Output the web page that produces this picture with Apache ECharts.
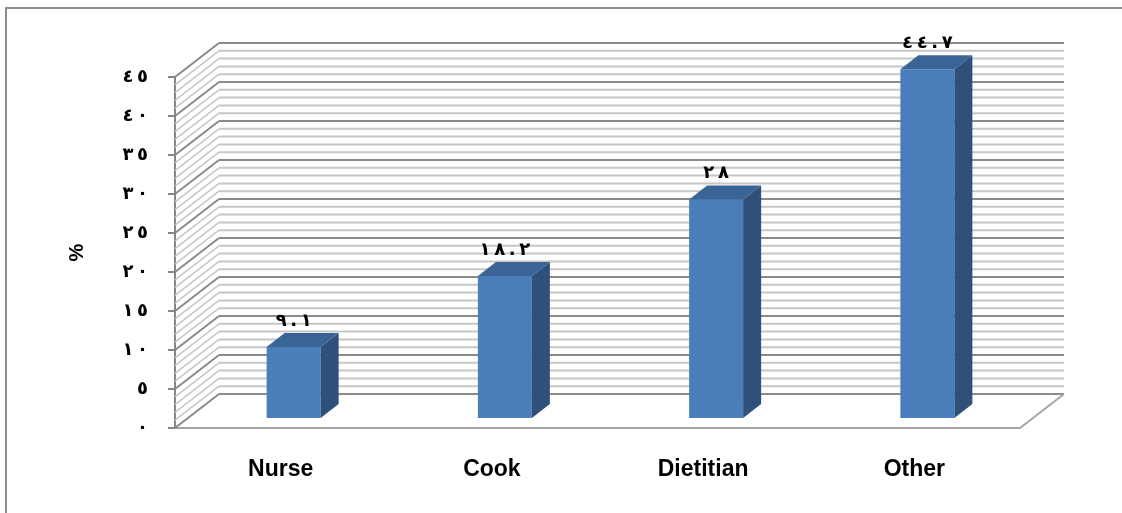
<!DOCTYPE html>
<html>
<head>
<meta charset="utf-8">
<script src="https://cdn.jsdelivr.net/npm/echarts@6/dist/echarts.min.js"></script>
<style>
  html, body { margin: 0; padding: 0; background: #fff; }
  #chart { width: 1122px; height: 513px; }
</style>
</head>
<body>
<div id="chart"></div>
<script>
// data
const categories = ['Nurse', 'Cook', 'Dietitian', 'Other'];
const percents = [9.1, 18.2, 28, 44.7];
const yTicks = [0, 5, 10, 15, 20, 25, 30, 35, 40, 45];

// 3d look: depth of the walls and of the bars (pixels)
const WALL_DX = 44, WALL_DY = -34;
const BAR_DX = 13, BAR_DY = -10;
const BAR_DEPTH_X = 18, BAR_DEPTH_Y = -14;
const BAR_W = 54;

const arabicDigits = '٠١٢٣٤٥٦٧٨٩';
// arabic-indic digits, spaced out; LRM keeps them in left-to-right order
function toArabic(v) {
  return String(v)
    .replace(/[0-9]/g, d => arabicDigits[+d])
    .split('')
    .join('\u200E\u2009\u200E');
}

// one grid line per unit, darker every 5
const gridValues = [];
for (let v = yTicks[0]; v <= yTicks[yTicks.length - 1]; v++) gridValues.push([0, v]);

const chart = echarts.init(document.getElementById('chart'));

const option = {
  backgroundColor: '#fff',
  animation: false,
  graphic: [{
    type: 'rect',
    shape: { x: 6, y: 8, width: 1200, height: 600 },
    style: { fill: 'none', stroke: '#8c8c8c', lineWidth: 2 },
    silent: true
  }],
  grid: { left: 175, right: 102, top: 77, bottom: 85 },
  xAxis: {
    type: 'category',
    data: categories,
    axisLine: { show: true, lineStyle: { color: '#a6a6a6', width: 2 } },
    axisTick: { show: false },
    axisLabel: {
      margin: 30,
      color: '#000',
      fontFamily: '"Liberation Sans Narrow", "Liberation Sans", Arial',
      fontWeight: 'bold',
      fontSize: 23
    },
    splitLine: { show: false }
  },
  yAxis: {
    type: 'value',
    min: 0,
    max: 45,
    interval: 5,
    name: '%',
    nameLocation: 'middle',
    nameRotate: 90,
    nameGap: 88,
    nameTextStyle: { color: '#000', fontWeight: 'bold', fontSize: 20, fontFamily: '"Liberation Sans", Arial' },
    axisLine: { show: true, lineStyle: { color: '#868686', width: 2 } },
    axisTick: { show: true, length: 7, inside: false, lineStyle: { color: '#868686', width: 2 } },
    axisLabel: {
      margin: 27,
      color: '#000',
      fontWeight: 'bold',
      fontSize: 18,
      fontFamily: '"DejaVu Sans", sans-serif',
      formatter: v => toArabic(v)
    },
    splitLine: { show: false }
  },
  series: [
    {
      // back wall lines, left wall hatching and floor edge
      type: 'custom',
      z: 1,
      silent: true,
      data: gridValues,
      renderItem: function (params, api) {
        const cs = params.coordSys;
        const v = api.value(1);
        const y = api.coord([0, v])[1];
        const x0 = cs.x, x1 = cs.x + cs.width;
        const major = v % 5 === 0;
        const stroke = major ? '#8a8a8a' : '#c6c6c6';
        const children = [
          {
            type: 'line',
            shape: { x1: x0 + WALL_DX, y1: y + WALL_DY, x2: x1 + WALL_DX, y2: y + WALL_DY },
            style: { stroke: stroke, lineWidth: 2 }
          },
          {
            type: 'line',
            shape: { x1: x0, y1: y, x2: x0 + WALL_DX, y2: y + WALL_DY },
            style: { stroke: stroke, lineWidth: major ? 2 : 1.5 }
          }
        ];
        if (v === 0) {
          children.push({
            type: 'line',
            shape: { x1: x1, y1: y, x2: x1 + WALL_DX, y2: y + WALL_DY },
            style: { stroke: '#a6a6a6', lineWidth: 2 }
          });
        }
        return { type: 'group', children: children };
      }
    },
    {
      type: 'custom',
      z: 5,
      data: percents.map((v, i) => [i, v]),
      renderItem: function (params, api) {
        const i = api.value(0);
        const v = api.value(1);
        const top = api.coord([i, v]);
        const base = api.coord([i, 0]);
        const xl = top[0] + BAR_DX - BAR_W / 2;
        const xr = xl + BAR_W;
        const yt = top[1] + BAR_DY;
        const yb = base[1] + BAR_DY;
        return {
          type: 'group',
          children: [
            {
              type: 'rect',
              shape: { x: xl, y: yt, width: BAR_W, height: yb - yt },
              style: { fill: '#4a7ebb' }
            },
            {
              type: 'polygon',
              shape: { points: [[xr, yt], [xr + BAR_DEPTH_X, yt + BAR_DEPTH_Y], [xr + BAR_DEPTH_X, yb + BAR_DEPTH_Y], [xr, yb]] },
              style: { fill: '#30507c' }
            },
            {
              type: 'polygon',
              shape: { points: [[xl, yt], [xl + BAR_DEPTH_X, yt + BAR_DEPTH_Y], [xr + BAR_DEPTH_X, yt + BAR_DEPTH_Y], [xr, yt]] },
              style: { fill: '#3b6496' }
            },
            {
              type: 'text',
              x: top[0] + BAR_DX,
              y: top[1] - 36,
              style: {
                text: toArabic(v),
                fill: '#000',
                font: 'bold 18px "DejaVu Sans", sans-serif',
                align: 'center',
                verticalAlign: 'middle'
              }
            }
          ]
        };
      }
    }
  ]
};

chart.setOption(option);
</script>
</body>
</html>
